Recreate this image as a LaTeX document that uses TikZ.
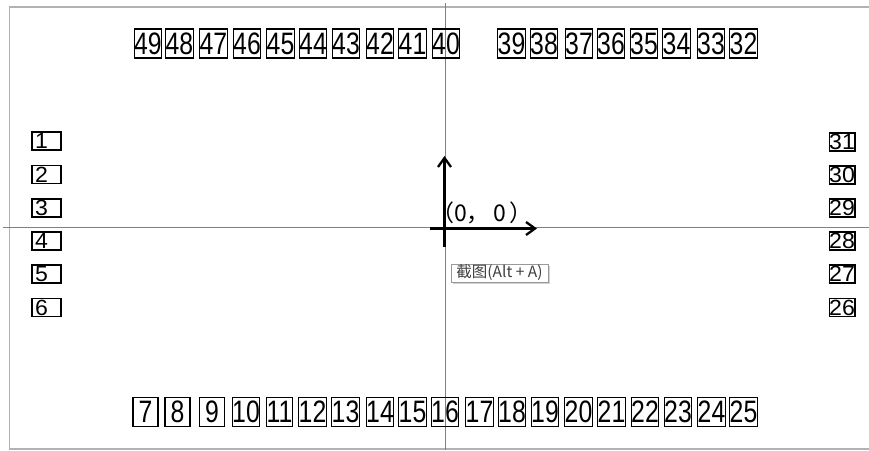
\documentclass[tikz,border=0pt]{standalone}
\usepackage{fontspec}
\usepackage{graphicx}
\setmainfont{Liberation Sans}
\newfontfamily\cjk{Noto Sans CJK SC}
\usetikzlibrary{arrows.meta,shadows}
\newcommand{\tallnum}[1]{\scalebox{0.8}[1]{#1}}
\newcommand{\widenum}[1]{\scalebox{1.05}[1]{#1}}
\begin{document}
\begin{tikzpicture}[x=1pt, y=-1pt]
\tikzset{ >={Straight Barb[length=9pt, width=13pt]}, inner sep=0pt, outer sep=0pt,
  topbox/.style={draw, line width=1.3pt, minimum width=25pt, minimum height=29pt,
    font=\fontsize{31}{31}\selectfont},
  leftbox/.style={draw, line width=1.3pt, text width=23pt, inner xsep=3pt, align=left,
    minimum height=18pt, font=\fontsize{22}{22}\selectfont},
  rightbox/.style={draw, line width=1.3pt, minimum width=25pt, minimum height=18pt,
    font=\fontsize{22}{22}\selectfont},
  axis/.style={line width=2.3pt},
  hair/.style={gray, line width=0.9pt},
}
\useasboundingbox (0,0) rectangle (869,450);
\fill [white] (0,0) rectangle (869,450);

% frame and cross
\draw [gray!60, line width=1.3pt] (9.5,7) rectangle (890,449);
\coordinate (VT) at (445,2.5);
\coordinate (VB) at (445,450);
\coordinate (HL) at (3,227.5);
\coordinate (HR) at (869,227.5);
\draw [hair] (VT) -- (VB);
\draw [hair] (HL) -- (HR);

% top row
\node [topbox] (P49) at (148,43.5)   {\tallnum{49}};
\node [topbox] (P48) at (179.5,43.5) {\tallnum{48}};
\node [topbox] (P47) at (213.5,43.5) {\tallnum{47}};
\node [topbox] (P46) at (247,43.5)   {\tallnum{46}};
\node [topbox] (P45) at (280.5,43.5) {\tallnum{45}};
\node [topbox] (P44) at (313,43.5)   {\tallnum{44}};
\node [topbox] (P43) at (346,43.5)   {\tallnum{43}};
\node [topbox] (P42) at (380,43.5)   {\tallnum{42}};
\node [topbox] (P41) at (412.5,43.5) {\tallnum{41}};
\node [topbox] (P40) at (446,43.5)   {\tallnum{40}};
\node [topbox] (P39) at (511.5,43.5) {\tallnum{39}};
\node [topbox] (P38) at (544,43.5)   {\tallnum{38}};
\node [topbox] (P37) at (579,43.5)   {\tallnum{37}};
\node [topbox] (P36) at (611,43.5)   {\tallnum{36}};
\node [topbox] (P35) at (644,43.5)   {\tallnum{35}};
\node [topbox] (P34) at (676.5,43.5) {\tallnum{34}};
\node [topbox] (P33) at (711,43.5)   {\tallnum{33}};
\node [topbox] (P32) at (743.5,43.5) {\tallnum{32}};

% bottom row
\node [topbox] (P7)  at (145.5,412) {\tallnum{7}};
\node [topbox] (P8)  at (177.5,412) {\tallnum{8}};
\node [topbox] (P9)  at (212,412)   {\tallnum{9}};
\node [topbox] (P10) at (246,412)   {\tallnum{10}};
\node [topbox] (P11) at (279.5,412) {\tallnum{11}};
\node [topbox] (P12) at (312.5,412) {\tallnum{12}};
\node [topbox] (P13) at (345.5,412) {\tallnum{13}};
\node [topbox] (P14) at (380,412)   {\tallnum{14}};
\node [topbox] (P15) at (412.5,412) {\tallnum{15}};
\node [topbox] (P16) at (445,412)   {\tallnum{16}};
\node [topbox] (P17) at (479.5,412) {\tallnum{17}};
\node [topbox] (P18) at (512,412)   {\tallnum{18}};
\node [topbox] (P19) at (545,412)   {\tallnum{19}};
\node [topbox] (P20) at (578.5,412) {\tallnum{20}};
\node [topbox] (P21) at (611.5,412) {\tallnum{21}};
\node [topbox] (P22) at (645,412)   {\tallnum{22}};
\node [topbox] (P23) at (678,412)   {\tallnum{23}};
\node [topbox] (P24) at (711.5,412) {\tallnum{24}};
\node [topbox] (P25) at (743.5,412) {\tallnum{25}};

% left column
\node [leftbox] (P1) at (46.5,141)   {\widenum{1}};
\node [leftbox] (P2) at (46.5,174.5) {\widenum{2}};
\node [leftbox] (P3) at (46.5,208)   {\widenum{3}};
\node [leftbox] (P4) at (46.5,241)   {\widenum{4}};
\node [leftbox] (P5) at (46.5,274)   {\widenum{5}};
\node [leftbox] (P6) at (46.5,307.5) {\widenum{6}};

% right column
\node [rightbox] (P31) at (842,142)   {\widenum{31}};
\node [rightbox] (P30) at (842,175)   {\widenum{30}};
\node [rightbox] (P29) at (842,208)   {\widenum{29}};
\node [rightbox] (P28) at (842,241)   {\widenum{28}};
\node [rightbox] (P27) at (842,274)   {\widenum{27}};
\node [rightbox] (P26) at (842,307.5) {\widenum{26}};

% origin axes
\coordinate (XA) at (430,228.5);
\coordinate (XB) at (537,228.5);
\coordinate (YA) at (444.5,247);
\coordinate (YB) at (444.5,156);
\draw [axis, ->] (XA) -- (XB);
\draw [axis, ->] (YA) -- (YB);
\node [font=\cjk\fontsize{23}{23}\selectfont, anchor=west] (O) at (431,213)
  {（0，\hspace{4pt}0\hspace{3pt}）};

% tooltip
\node [draw=gray!80, fill=white, line width=0.8pt, minimum width=97pt, minimum height=18pt,
  text=black!75, font=\cjk\fontsize{15.5}{15.5}\selectfont,
  drop shadow={shadow xshift=2pt, shadow yshift=-2pt, fill=gray!45, opacity=0.8}]
  (TIP) at (499.5,273) {截图(Alt + A)};

\end{tikzpicture}
\end{document}
